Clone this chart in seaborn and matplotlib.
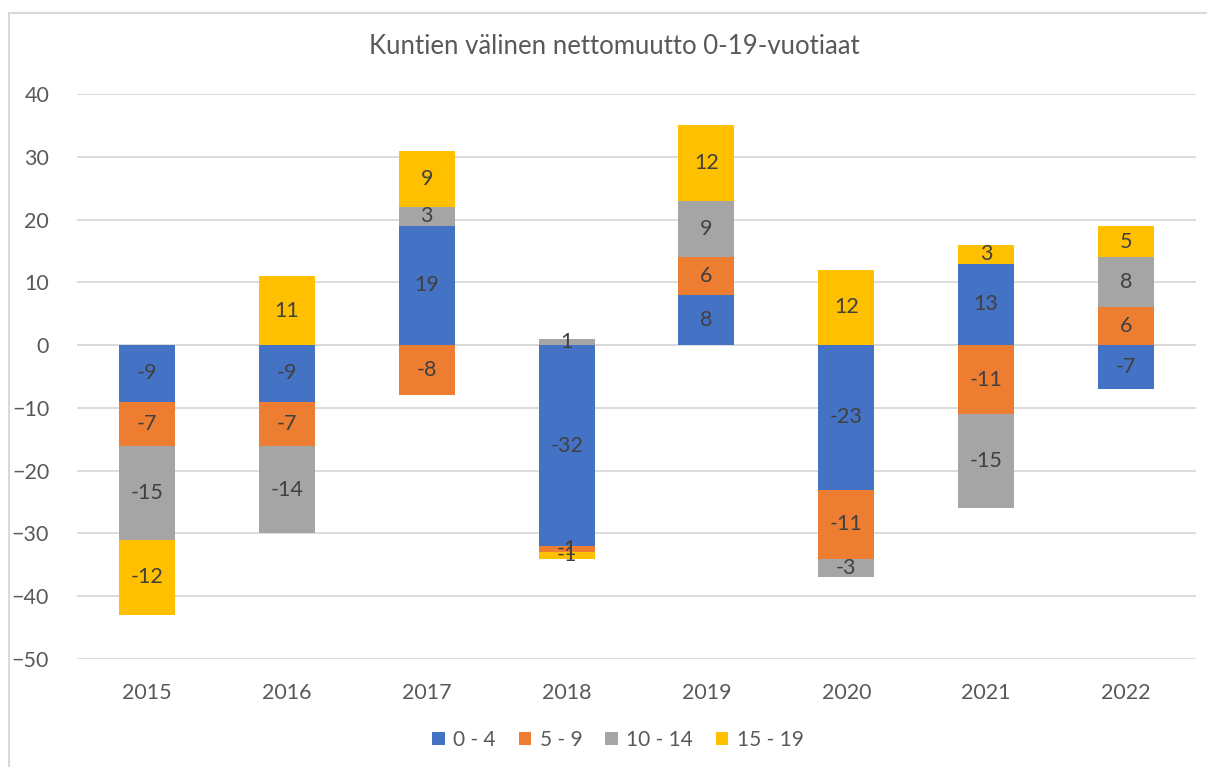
import numpy as np
import matplotlib
matplotlib.use("Agg")
import matplotlib.pyplot as plt
from matplotlib.patches import Rectangle
import seaborn as sns

years = ["2015", "2016", "2017", "2018", "2019", "2020", "2021", "2022"]
series_names = ["0 - 4", "5 - 9", "10 - 14", "15 - 19"]
age_0_4 = [-9, -9, 19, -32, 8, -23, 13, -7]
age_5_9 = [-7, -7, -8, -1, 6, -11, -11, 6]
age_10_14 = [-15, -14, 3, 1, 9, -3, -15, 8]
age_15_19 = [-12, 11, 9, -1, 12, 12, 3, 5]
colors = ["#4472C4", "#ED7D31", "#A5A5A5", "#FFC000"]
title = "Kuntien välinen nettomuutto 0-19-vuotiaat"
yticks = [40, 30, 20, 10, 0, -10, -20, -30, -40, -50]

sns.set_theme(style="white")
plt.rcParams["font.family"] = ["Lato", "DejaVu Sans"]

W, H = 1207, 767
fig = plt.figure(figsize=(W / 100, H / 100), dpi=100)
ax = fig.add_axes([77 / W, 1 - 659 / H, (1196 - 77) / W, (659 - 94) / H])

# chart border
fig.patches.append(Rectangle((9 / W, -0.05), 1.2, 1 - 13 / H + 0.05,
                             transform=fig.transFigure, fill=False,
                             edgecolor="#D9D9D9", linewidth=1.5, zorder=0))

x = np.arange(len(years))
pos_base = np.zeros(len(years))
neg_base = np.zeros(len(years))
all_series = [age_0_4, age_5_9, age_10_14, age_15_19]
for name, vals, col in zip(series_names, all_series, colors):
    vals = np.array(vals, dtype=float)
    bottoms = np.where(vals >= 0, pos_base, neg_base)
    ax.bar(x, vals, bottom=bottoms, width=0.4, color=col, label=name,
           linewidth=0, zorder=3)
    for xi, v, b in zip(x, vals, bottoms):
        ax.text(xi, b + v / 2, f"{int(v)}", ha="center", va="center",
                fontsize=15.5, color="#404040", zorder=4)
    pos_base = pos_base + np.where(vals >= 0, vals, 0)
    neg_base = neg_base + np.where(vals < 0, vals, 0)

ax.set_ylim(-50, 40)
ax.set_xlim(-0.5, len(years) - 0.5)
ax.set_yticks(yticks)
ax.set_xticks(x)
ax.set_xticklabels(years)
ax.tick_params(axis="both", length=0, labelsize=15.5, labelcolor="#595959")
ax.tick_params(axis="y", pad=20)
ax.tick_params(axis="x", pad=17)
ax.grid(axis="y", color="#D9D9D9", linewidth=1.3, zorder=0)
ax.axhline(0, color="#D9D9D9", linewidth=1.3, zorder=1)
for s in ax.spines.values():
    s.set_visible(False)
ax.set_facecolor("none")

fig.text(614 / W, 1 - 47 / H, title, ha="center", va="center",
         fontsize=18.5, color="#595959")

handles, labels = ax.get_legend_handles_labels()
leg = fig.legend(handles, labels, loc="center", bbox_to_anchor=(618 / W, 1 - 740 / H),
                 ncol=4, frameon=False, fontsize=15, handlelength=0.6,
                 handleheight=0.6, handletextpad=0.4, columnspacing=1.1)
for t in leg.get_texts():
    t.set_color("#595959")

fig.savefig("out.png", dpi=100, facecolor="white")
